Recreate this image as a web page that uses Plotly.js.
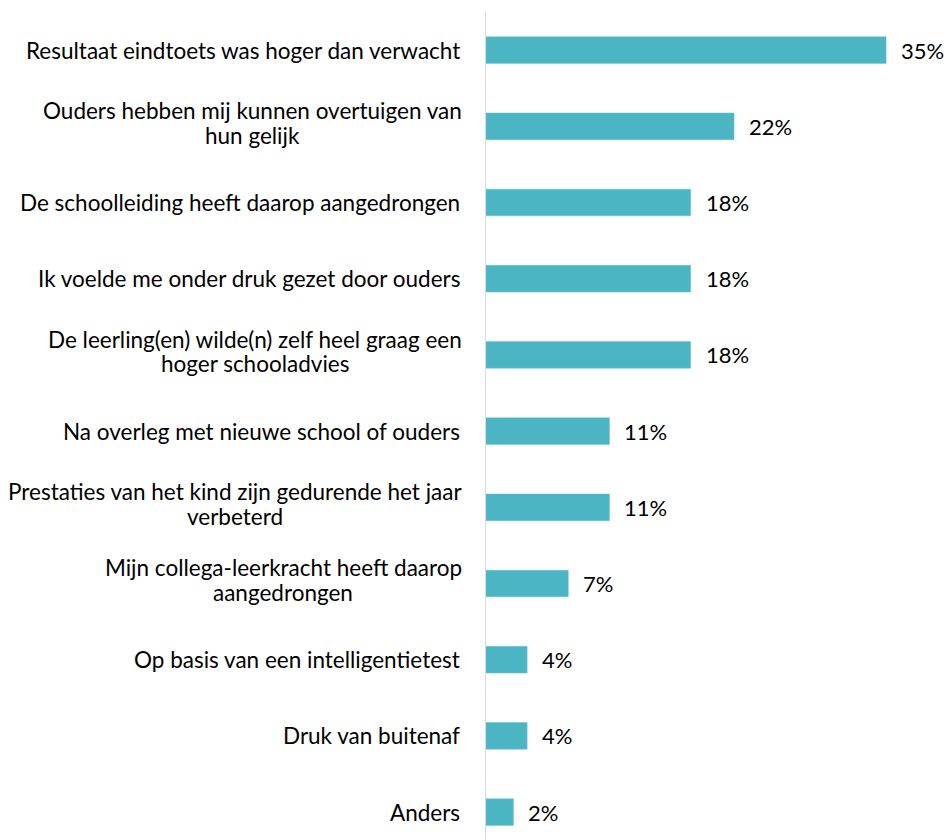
<!DOCTYPE html>
<html>
<head>
<meta charset="utf-8">
<script src="https://cdn.plot.ly/plotly-3.0.1.min.js"></script>
<style>html,body{margin:0;padding:0;background:#fff;}#chart{width:946px;height:840px;}</style>
</head>
<body>
<div id="chart"></div>
<script>
var categories = [
  "Resultaat eindtoets was hoger dan verwacht",
  "Ouders hebben mij kunnen overtuigen van<br>hun gelijk",
  "De schoolleiding heeft daarop aangedrongen",
  "Ik voelde me onder druk gezet door ouders",
  "De leerling(en) wilde(n) zelf heel graag een<br>hoger schooladvies",
  "Na overleg met nieuwe school of ouders",
  "Prestaties van het kind zijn gedurende het jaar<br>verbeterd",
  "Mijn collega-leerkracht heeft daarop<br>aangedrongen",
  "Op basis van een intelligentietest",
  "Druk van buitenaf",
  "Anders"
];
var values = [35, 21.7, 17.9, 17.9, 17.9, 10.8, 10.8, 7.2, 3.6, 3.6, 2.4];
var valueLabels = ["35%", "22%", "18%", "18%", "18%", "11%", "11%", "7%", "4%", "4%", "2%"];

var fontFam = "Lato, 'Open Sans', sans-serif";
var labelSize = 22.5;
var valueSize = 22;
var labelGap = 24;

var canvas = document.createElement('canvas');
var ctx = canvas.getContext('2d');
ctx.font = labelSize + "px Lato";

var annotations = [];
categories.forEach(function (c, i) {
  var lines = c.split('<br>');
  if (lines.length === 1) {
    annotations.push({
      xref: 'paper', yref: 'y', x: 0, y: c, text: c,
      xanchor: 'right', yanchor: 'middle', xshift: -labelGap,
      showarrow: false, font: {family: fontFam, size: labelSize, color: '#000'}
    });
  } else {
    var maxW = 0;
    lines.forEach(function (l) { maxW = Math.max(maxW, ctx.measureText(l).width); });
    var shifts = [15.6, -9];
    lines.forEach(function (l, j) {
      annotations.push({
        xref: 'paper', yref: 'y', x: 0, y: c, text: l,
        xanchor: 'center', yanchor: 'middle', xshift: -labelGap - maxW / 2, yshift: shifts[j],
        showarrow: false, font: {family: fontFam, size: labelSize, color: '#000'}
      });
    });
  }
  annotations.push({
    xref: 'x', yref: 'y', x: values[i], y: c, text: valueLabels[i],
    xanchor: 'left', yanchor: 'middle', xshift: 13,
    showarrow: false, font: {family: fontFam, size: valueSize, color: '#000'}
  });
});

var trace = {
  type: 'bar', orientation: 'h',
  x: values, y: categories,
  marker: {color: '#4BB5C4', line: {color: '#6cc3cf', width: 0.5}},
  width: 0.35, hoverinfo: 'none'
};

var layout = {
  width: 946, height: 840,
  margin: {l: 486, r: 0, t: 12, b: 0, pad: 0},
  paper_bgcolor: '#fff', plot_bgcolor: '#fff',
  showlegend: false,
  xaxis: {range: [0, 40.24], showgrid: false, zeroline: false, showticklabels: false, showline: false, ticks: ''},
  yaxis: {type: 'category', range: [10.366, -0.5], showgrid: false, zeroline: false,
          showticklabels: false, showline: true, linecolor: '#d9d9d9', linewidth: 1.5, ticks: ''},
  annotations: annotations
};

Plotly.newPlot('chart', [trace], layout, {staticPlot: true, displayModeBar: false});
</script>
</body>
</html>
